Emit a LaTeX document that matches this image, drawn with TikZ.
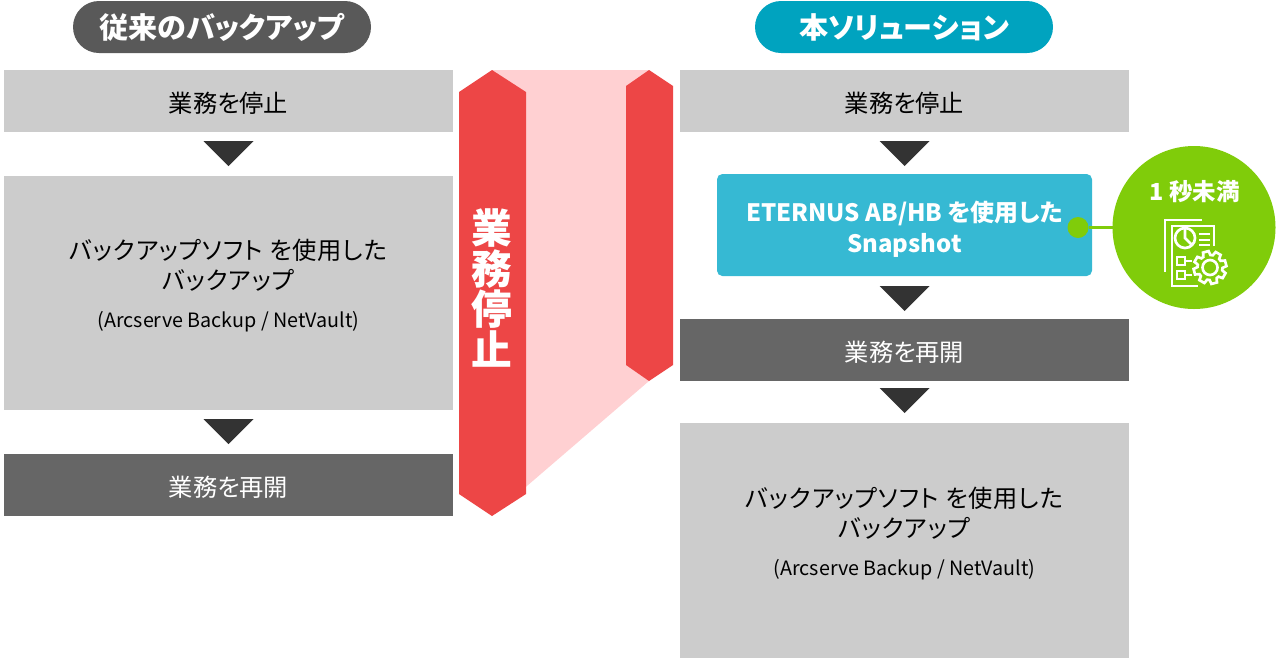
\documentclass[tikz,border=0pt]{standalone}
\usepackage{fontspec}
\setmainfont[RawFeature=+palt]{Noto Sans CJK JP}
\newfontfamily\longjp[RawFeature=+palt,LetterSpace=3.4]{Noto Sans CJK JP}
\usetikzlibrary{positioning}
\definecolor{grisclair}{HTML}{CCCCCC}
\definecolor{grisfonce}{HTML}{666666}
\definecolor{grispill}{HTML}{595959}
\definecolor{flechegris}{HTML}{333333}
\definecolor{bleupill}{HTML}{00A3BF}
\definecolor{bleubox}{HTML}{36B9D3}
\definecolor{vert}{HTML}{80CC0A}
\definecolor{rouge}{HTML}{ED4646}
\definecolor{rose}{HTML}{FFD0D2}
\newcommand\baisse[1]{\raisebox{0pt}[\dimexpr\height+3.6pt\relax][\depth]{#1}}
\tikzset{x=0.75pt, y=-0.75pt,
         bloc/.style 2 args = {minimum width = #1*0.75pt, minimum height = #2*0.75pt,
                               inner sep = 0pt, outer sep = 0pt},
         clair/.style 2 args = {bloc={#1}{#2}, fill = grisclair},
         fonce/.style 2 args = {bloc={#1}{#2}, fill = grisfonce, text = white},
         titre/.style = {bloc={298}{52}, rounded corners = 19.5pt, text = white,
                         font = \fontsize{21.8pt}{24pt}\bfseries},
         texte/.style = {inner sep = 0pt, align = center, font = \fontsize{18.2pt}{22.5pt}\selectfont},
         longtexte/.style = {inner sep = 0pt, align = center, font = \fontsize{18.2pt}{22.5pt}\longjp},
         icone/.style = {draw = white, line width = 2pt, fill = none},
         fleche/.style = {fill = flechegris}
        }

\begin{document}
\begin{tikzpicture}
  \useasboundingbox (0,0) rectangle (1280,658);

  % bande rouge
  \fill[rose] (492,70) -- (649,70) -- (649,381) -- (492,516) -- cycle;
  \fill[rouge] (459,92) -- (492,70) -- (526,92) -- (526,494) -- (492,516) -- (459,494) -- cycle;
  \fill[rouge] (626,86) -- (649,70) -- (673,86) -- (673,365) -- (649,381) -- (626,365) -- cycle;
  \node[inner sep = 0pt, text = white, align = center,
        font = \fontsize{30.5pt}{30.5pt}\bfseries] (arret) at (492,288) {業\\務\\停\\止};

  % colonne gauche
  \node[titre, fill = grispill] (titreG) at (222,27) {従来のバックアップ};
  \node[clair={449}{62}, texte] (stopG) at (228.5,101) {\baisse{業務を停止}};
  \node[clair={449}{234}] (backG) at (228.5,293) {};
  \node[longtexte] (backGtxt) at (228.5,285.5) {バックアップソフト を使用した\\バックアップ\\[5.5pt]{\fontsize{14.8pt}{18pt}\selectfont\rmfamily (Arcserve Backup / NetVault)}};
  \node[fonce={449}{62}, texte, text = white] (repriseG) at (228.5,485) {\baisse{業務を再開}};

  % colonne droite
  \node[titre, fill = bleupill] (titreD) at (904,27) {本ソリューション};
  \node[clair={449}{62}, texte] (stopD) at (904.5,101) {\baisse{業務を停止}};
  \node[bloc={375}{102}, fill = bleubox, rounded corners = 4pt] (snap) at (904.5,225) {};
  \node[texte, text = white, font = \fontsize{17.95pt}{23pt}\bfseries] (snaptxt) at (904.5,229) {ETERNUS AB/HB を使用した\\Snapshot};
  \node[fonce={449}{62}, texte, text = white] (repriseD) at (904.5,350) {\baisse{業務を再開}};
  \node[clair={449}{235}] (backD) at (904.5,540.5) {};
  \node[longtexte] (backDtxt) at (904.5,533.5) {バックアップソフト を使用した\\バックアップ\\[5.5pt]{\fontsize{14.8pt}{18pt}\selectfont\rmfamily (Arcserve Backup / NetVault)}};

  % fleches
  \foreach \x/\y in {228.5/141, 228.5/419, 904.5/141, 904.5/286, 904.5/388}
    \fill[fleche] (\x-25,\y) -- (\x+25,\y) -- (\x,\y+25) -- cycle;

  % rond vert
  \node[circle, fill = vert, minimum size = 163*0.75pt, inner sep = 0pt, outer sep = 0pt] (rond) at (1194,227.5) {};
  \node[circle, fill = vert, minimum size = 21*0.75pt, inner sep = 0pt, outer sep = 0pt] (point) at (1078,227.5) {};
  \draw[vert, line width = 2.25pt] (point) -- (rond);
  \node[inner sep = 0pt, text = white, font = \fontsize{17.6pt}{20pt}\bfseries] (seconde) at (1194.5,192) {1 秒未満};

  % icone
  \draw[icone] (1201.5,220) -- (1165,220) -- (1165,272);
  \draw[icone] (1214,246) -- (1214,226) -- (1172,226) -- (1172,286) -- (1198,286);
  \draw[icone] (1185,238) circle (10);
  \draw[icone] (1185,228) -- (1185,238) -- (1192,245);
  \foreach \y in {234,240,245}
    \draw[icone] (1199,\y) -- (1210,\y);
  \draw[icone] (1177,257) rectangle (1185,265);
  \draw[icone] (1177,271) rectangle (1185,279);
  \draw[icone] (1185,261) -- (1192,261);
  \draw[icone] (1185,275) -- (1192,275);
  \draw[icone] (1210,267.5) circle (7.5);
  \draw[icone] ({1210+16.5*cos(20)},{267.5+16.5*sin(20)}) \foreach \a in {30,75,...,345} {
      -- ({1210+16.5*cos(\a-10)},{267.5+16.5*sin(\a-10)})
      -- ({1210+16.5*cos(\a+10)},{267.5+16.5*sin(\a+10)})
      -- ({1210+12.5*cos(\a+17)},{267.5+12.5*sin(\a+17)})
      -- ({1210+12.5*cos(\a+28)},{267.5+12.5*sin(\a+28)})
    } -- cycle;
\end{tikzpicture}
\end{document}
